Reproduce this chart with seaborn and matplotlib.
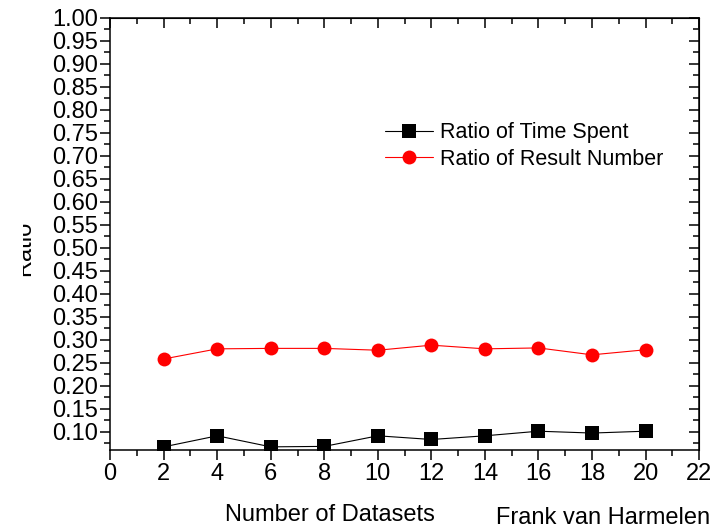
import pandas as pd
import seaborn as sns
import matplotlib.pyplot as plt
from matplotlib.ticker import MultipleLocator, NullFormatter
from matplotlib.transforms import Bbox, TransformedBbox

# values
datasets = [2, 4, 6, 8, 10, 12, 14, 16, 18, 20]
time_spent = [0.067, 0.091, 0.067, 0.068, 0.091, 0.083, 0.091, 0.101, 0.097, 0.101]
result_number = [0.258, 0.280, 0.281, 0.281, 0.277, 0.288, 0.280, 0.282, 0.267, 0.278]
series_names = ["Ratio of Time Spent", "Ratio of Result Number"]


def main():
    sns.set_style("ticks", {"axes.edgecolor": "black", "text.color": "black",
                            "xtick.color": "black", "ytick.color": "black"})
    plt.rcParams['font.family'] = ['Liberation Sans', 'DejaVu Sans']

    df = pd.DataFrame({
        "datasets": datasets * 2,
        "ratio": time_spent + result_number,
        "series": [series_names[0]] * len(datasets) + [series_names[1]] * len(datasets),
    })

    fig = plt.figure(figsize=(7.2, 5.32), dpi=100)
    ax = fig.add_axes([0.153, 0.154, 0.818, 0.813])

    sns.lineplot(data=df, x="datasets", y="ratio", hue="series", style="series",
                 palette={series_names[0]: "black", series_names[1]: "red"},
                 markers={series_names[0]: "s", series_names[1]: "o"},
                 dashes=False, linewidth=0.8, markersize=10, markeredgewidth=0,
                 ax=ax)

    ax.set_xlim(0, 22)
    ax.set_ylim(0.06, 1.00)
    ax.xaxis.set_major_locator(MultipleLocator(2))
    ax.xaxis.set_minor_locator(MultipleLocator(1))
    ax.yaxis.set_minor_locator(MultipleLocator(0.025))
    ax.set_yticks([round(0.10 + 0.05 * i, 2) for i in range(19)])
    ax.yaxis.set_major_formatter(lambda v, pos: f"{v:.2f}")
    ax.tick_params(which='major', direction='out', length=7, width=1.1, labelsize=17, pad=2)
    ax.tick_params(which='minor', direction='out', length=4, width=1.1)
    for sp in ax.spines.values():
        sp.set_linewidth(1.1)
    ax.set_xlabel("")
    ax.set_ylabel("")

    # inward ticks on the top and right frame
    top = ax.secondary_xaxis('top')
    top.xaxis.set_major_locator(MultipleLocator(2))
    top.xaxis.set_minor_locator(MultipleLocator(1))
    top.xaxis.set_major_formatter(NullFormatter())
    top.tick_params(which='major', direction='in', length=7, width=1.1)
    top.tick_params(which='minor', direction='in', length=4, width=1.1)
    right = ax.secondary_yaxis('right')
    right.yaxis.set_major_locator(MultipleLocator(0.05))
    right.yaxis.set_minor_locator(MultipleLocator(0.025))
    right.yaxis.set_major_formatter(NullFormatter())
    right.tick_params(which='major', direction='in', length=7, width=1.1)
    right.tick_params(which='minor', direction='in', length=4, width=1.1)

    ax.legend(loc='upper left', bbox_to_anchor=(0.467, 0.758), frameon=False,
              fontsize=15.5, handlelength=2.2, borderaxespad=0, borderpad=0,
              handletextpad=0.35, labelspacing=0.25)

    # the y label is partly cut off on the left in the original
    ylab = fig.text(0.034, 0.534, "Ratio", rotation=90, ha='center', va='center', fontsize=17)
    ylab.set_clip_box(TransformedBbox(Bbox([[23 / 720, 0], [1, 1]]), fig.transFigure))
    ylab.set_clip_on(True)
    fig.text(0.458, 0.032, "Number of Datasets", ha='center', va='center', fontsize=17)
    fig.text(0.838, 0.026, "Frank van Harmelen", ha='center', va='center', fontsize=17)

    fig.savefig("out.png", dpi=100)


if __name__ == "__main__":
    main()
